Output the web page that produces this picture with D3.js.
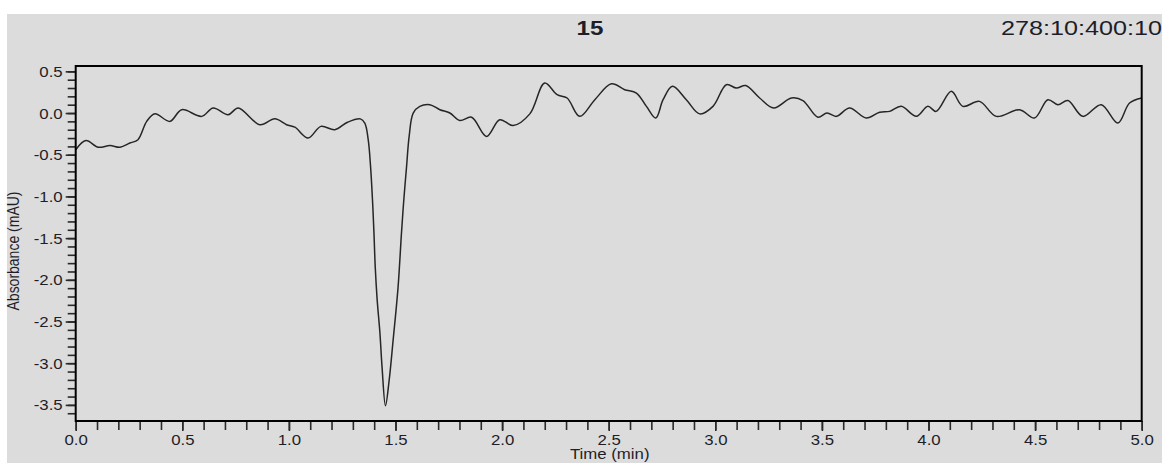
<!DOCTYPE html>
<html>
<head>
<meta charset="utf-8">
<script src="https://cdn.jsdelivr.net/npm/d3@7"></script>
<style>
  html, body { margin: 0; padding: 0; background: #ffffff; }
  svg { display: block; }
  text { font-family: "Liberation Sans", Arial, sans-serif; fill: #1e1e28; }
</style>
</head>
<body>
<svg id="chart" width="1162" height="463"></svg>
<script>
// ---- data ----
const titleLeft = "15";
const titleRight = "278:10:400:10";
const xLabel = "Time (min)";
const yLabel = "Absorbance (mAU)";

const xTickLabels = [0.0, 0.5, 1.0, 1.5, 2.0, 2.5, 3.0, 3.5, 4.0, 4.5, 5.0];
const yTickLabels = [0.5, 0.0, -0.5, -1.0, -1.5, -2.0, -2.5, -3.0, -3.5];

const times = [
  0.000, 0.048, 0.106, 0.161, 0.208, 0.254, 0.292, 0.333, 0.372, 0.442,
  0.497, 0.591, 0.645, 0.715, 0.762, 0.864, 0.934, 0.989, 1.028, 1.090,
  1.150, 1.215, 1.275, 1.335, 1.356, 1.372, 1.383, 1.392, 1.399, 1.405,
  1.414, 1.427, 1.437, 1.453, 1.470, 1.489, 1.512, 1.528, 1.539, 1.552,
  1.564, 1.583, 1.614, 1.661, 1.708, 1.755, 1.802, 1.857, 1.927, 1.989,
  2.052, 2.130, 2.200, 2.258, 2.305, 2.364, 2.435, 2.513, 2.575, 2.630,
  2.677, 2.721, 2.755, 2.799, 2.864, 2.927, 2.989, 3.052, 3.099, 3.143,
  3.208, 3.274, 3.357, 3.411, 3.481, 3.524, 3.568, 3.630, 3.708, 3.771,
  3.818, 3.872, 3.943, 3.997, 4.036, 4.107, 4.161, 4.239, 4.318, 4.427,
  4.497, 4.560, 4.607, 4.654, 4.724, 4.810, 4.888, 4.943, 5.000
];
const absorbance = [
  -0.44, -0.33, -0.41, -0.39, -0.41, -0.36, -0.32, -0.10, -0.01, -0.10,
   0.04, -0.04,  0.06, -0.02,  0.06, -0.14, -0.07, -0.14, -0.17, -0.30,
  -0.16, -0.20, -0.11, -0.07, -0.12, -0.32, -0.64, -1.04, -1.44, -1.85,
  -2.24, -2.64, -3.05, -3.51, -3.21, -2.72, -2.09, -1.44, -1.04, -0.64,
  -0.28,  0.00,  0.08,  0.10,  0.04,  0.00, -0.09, -0.05, -0.28, -0.08,
  -0.15, -0.01,  0.36,  0.22,  0.18, -0.04,  0.16,  0.35,  0.28,  0.24,
   0.08, -0.06,  0.16,  0.32,  0.16, -0.01,  0.08,  0.34,  0.30,  0.33,
   0.18,  0.06,  0.18,  0.15, -0.05,  0.00, -0.04,  0.06, -0.06,  0.01,
   0.02,  0.08, -0.04,  0.08,  0.02,  0.26,  0.08,  0.14, -0.04,  0.04,
  -0.06,  0.16,  0.10,  0.15, -0.04,  0.10, -0.12,  0.12,  0.18
];

// ---- layout ----
const svg = d3.select("#chart");
const plot = { left: 75.7, right: 1141.7, top: 66, bottom: 421 };
const stretch = 1.2;

// gray panel
svg.append("rect").attr("x", 7).attr("y", 14).attr("width", 1162 - 7).attr("height", 463 - 14)
  .attr("fill", "#dcdcdc");

const x = d3.scaleLinear().domain([0, 5]).range([plot.left, plot.right]);
const y = d3.scaleLinear().domain([-3.693, 0.564]).range([plot.bottom, plot.top]);

// minor ticks
const xMinor = d3.range(0, 5.0001, 0.1);
const yMinor = d3.range(-3.6, 0.5001, 0.1);

const gxMinor = svg.append("g").attr("transform", `translate(0,${plot.bottom})`)
  .call(d3.axisBottom(x).tickValues(xMinor).tickSize(9).tickFormat(""));
const gyMinor = svg.append("g").attr("transform", `translate(${plot.left},0)`)
  .call(d3.axisLeft(y).tickValues(yMinor).tickSize(8).tickFormat(""));

// major ticks
const gx = svg.append("g").attr("transform", `translate(0,${plot.bottom})`)
  .call(d3.axisBottom(x).tickValues(xTickLabels).tickSize(10).tickPadding(3)
    .tickFormat(d => d.toFixed(1)));
const gy = svg.append("g").attr("transform", `translate(${plot.left},0)`)
  .call(d3.axisLeft(y).tickValues(yTickLabels).tickSize(10).tickPadding(3)
    .tickFormat(d => (Math.abs(d) < 1e-9 ? 0 : d).toFixed(1)));

[gxMinor, gyMinor, gx, gy].forEach(g => {
  g.select(".domain").remove();
  g.selectAll(".tick line").attr("stroke", "#2a2a2a").attr("stroke-width", 1.6);
});

gx.selectAll(".tick text")
  .attr("y", 24).attr("dy", 0)
  .style("font-size", "14px")
  .attr("fill", "#1e1e28")
  .attr("transform", `scale(${stretch},1)`);
gy.selectAll(".tick text")
  .attr("x", -13 / stretch).attr("dy", "0.36em")
  .style("font-size", "14px")
  .attr("fill", "#1e1e28")
  .attr("transform", `scale(${stretch},1)`);

// trace
const line = d3.line()
  .x((d, i) => x(times[i]))
  .y((d, i) => y(absorbance[i]))
  .curve(d3.curveCatmullRom.alpha(0.5));
svg.append("path")
  .datum(absorbance)
  .attr("d", line)
  .attr("fill", "none")
  .attr("stroke", "#262626")
  .attr("stroke-width", 1.5)
  .attr("stroke-linejoin", "round");

// frame
svg.append("rect")
  .attr("x", plot.left).attr("y", plot.top)
  .attr("width", plot.right - plot.left).attr("height", plot.bottom - plot.top)
  .attr("fill", "none").attr("stroke", "#000").attr("stroke-width", 2);

// axis titles
svg.append("g").attr("transform", `translate(${(plot.left + plot.right) / 2 + 1},459) scale(${stretch},1)`)
  .append("text").attr("text-anchor", "middle").style("font-size", "14px").text(xLabel);

svg.append("g").attr("transform", `translate(19,251) rotate(-90) scale(1,${stretch})`)
  .append("text").attr("text-anchor", "middle").style("font-size", "14px").text(yLabel);

// titles
svg.append("g").attr("transform", `translate(590,35) scale(1.15,1)`)
  .append("text").attr("text-anchor", "middle").style("font-size", "21px")
  .style("font-weight", "bold").text(titleLeft);
svg.append("g").attr("transform", `translate(1001,35) scale(1.2,1)`)
  .append("text").attr("text-anchor", "start").style("font-size", "21px")
  .text(titleRight);
</script>
</body>
</html>
